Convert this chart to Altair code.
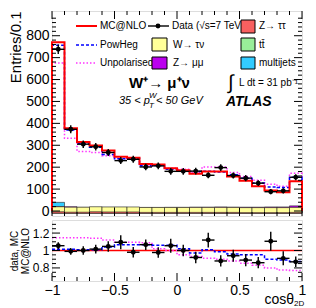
import altair as alt
import pandas as pd

FONT = "Liberation Sans"

# ---------------- data ----------------
bin_edges = [-1.0, -0.9, -0.8, -0.7, -0.6, -0.5, -0.4, -0.3, -0.2, -0.1, 0.0,
             0.1, 0.2, 0.3, 0.4, 0.5, 0.6, 0.7, 0.8, 0.9, 1.0]

mcnlo = [770, 378, 315, 299, 276, 248, 243, 214, 212, 195, 186, 170, 180, 180, 157, 138, 113, 93, 86, 136]
powheg = [757, 370, 308, 291, 258, 238, 240, 207, 208, 190, 182, 180, 181, 178, 166, 149, 128, 110, 107, 154]
unpol = [675, 332, 272, 267, 252, 240, 238, 205, 210, 195, 191, 176, 201, 201, 176, 157, 140, 122, 113, 172]
data_vals = [738, 373, 305, 293, 267, 230, 236, 201, 206, 181, 181, 182, 163, 198, 162, 150, 127, 88, 92, 154]
data_errs = [22, 18, 17, 17, 16, 16, 16, 15, 15, 15, 15, 15, 14, 15, 14, 14, 13, 12, 12, 14]

bkg_multijets = [28, 3, 3, 3, 3, 3, 3, 3, 3, 3, 3, 3, 3, 3, 3, 3, 3, 3, 3, 3]
bkg_zmumu = [9, 8, 5, 5, 5, 5, 4, 4, 4, 5, 5, 6, 6, 7, 6, 6, 6, 7, 7, 12]
bkg_ttbar = [1, 1, 1, 1, 1, 1, 1, 1, 1, 1, 1, 1, 1, 1, 1, 1, 1, 1, 1, 1]
bkg_ztautau = [1, 1, 1, 1, 1, 1, 1, 1, 1, 1, 1, 1, 1, 1, 1, 1, 1, 1, 1, 1]
bkg_wtaunu = [8, 6, 6, 8, 7, 7, 7, 5, 5, 5, 5, 5, 5, 5, 5, 4, 4, 4, 4, 5]

ratio_data = [1.055, 0.99, 1.0, 1.016, 1.047, 1.094, 0.98, 1.067, 0.977, 1.055,
              1.0, 0.92, 1.12, 0.88, 0.94, 0.89, 0.86, 1.106, 0.91, 0.87]
ratio_errs = [0.04, 0.04, 0.05, 0.05, 0.06, 0.08, 0.06, 0.06, 0.06, 0.08,
              0.065, 0.065, 0.085, 0.065, 0.07, 0.07, 0.065, 0.11, 0.08, 0.06]
ratio_powheg = [1.015, 1.015, 1.01, 1.01, 1.04, 1.065, 1.065, 1.065, 1.06, 1.06,
                1.02, 0.97, 1.01, 0.985, 0.96, 0.95, 0.95, 0.9, 0.89, 0.875]
ratio_unpol = [1.146, 1.146, 1.146, 1.14, 1.12, 1.094, 1.094, 1.09, 1.02, 1.0,
               0.95, 0.93, 0.91, 0.9, 0.88, 0.855, 0.83, 0.8, 0.775, 0.77]
mcnlo_ratio = [1.0]

x_label_values = [-1, -0.5, 0, 0.5, 1]
main_y_major = [0, 100, 200, 300, 400, 500, 600, 700, 800]
main_y_minor = [v for v in range(20, 900, 20) if v % 100 != 0]
ratio_y_major = [0.8, 1.0, 1.2]
ratio_y_minor = [0.7, 0.75, 0.85, 0.9, 0.95, 1.05, 1.1, 1.15, 1.25, 1.3]
x_major = [-1, -0.5, 0, 0.5, 1]
x_minor = [e for e in bin_edges if e not in x_major]

# stacking order from the bottom
bkg_names = ["multijets", "Z→ μμ", "tt̄", "Z→ ττ", "W→ τν"]
bkg_colors = ["#33ccff", "#bb00ee", "#99ee99", "#f86060", "#ffff99"]
bkg_lists = [bkg_multijets, bkg_zmumu, bkg_ttbar, bkg_ztautau, bkg_wtaunu]

# ---------------- layout ----------------
W = 250
H_MAIN = 205
H_RAT = 61

xs = alt.Scale(domain=[-1, 1], nice=False, zero=False)
ys_main = alt.Scale(domain=[0, 890], nice=False, zero=False)
ys_rat = alt.Scale(domain=[0.65, 1.35], nice=False, zero=False)

main_yaxis = alt.Axis(values=main_y_major, title="Entries/0.1", titleFontSize=15,
                      labelFontSize=14, titleAnchor="end", titleFontWeight="normal",
                      labelPadding=3, titlePadding=2, ticks=False, domain=False,
                      grid=False, labelFont=FONT, titleFont=FONT, labelColor="black",
                      titleColor="black")
rat_yaxis = alt.Axis(values=ratio_y_major, title=["data, MC", "MC@NLO"], titleFontSize=10,
                     labelFontSize=12, titleFontWeight="normal", labelPadding=3,
                     titlePadding=2, ticks=False, domain=False, grid=False,
                     labelFont=FONT, titleFont=FONT, labelColor="black",
                     titleColor="black", titleLineHeight=11, format=".1~f")
rat_xaxis = alt.Axis(values=x_label_values, title=None, labelFontSize=14, labelPadding=2,
                     labelFlush=False, ticks=False, domain=False, grid=False,
                     labelFont=FONT, labelColor="black", format="~g")


def Xm(f):
    return alt.X(f, scale=xs, axis=None)


def Xr(f):
    return alt.X(f, scale=xs, axis=rat_xaxis)


def Ym(f):
    return alt.Y(f, scale=ys_main, axis=main_yaxis)


def Yr(f):
    return alt.Y(f, scale=ys_rat, axis=rat_yaxis)


def step_df(vals, closed):
    if closed:
        xs_ = [bin_edges[0]] + bin_edges[:20] + [bin_edges[20], bin_edges[20]]
        ys_ = [0] + list(vals) + [vals[-1], 0]
    else:
        xs_ = bin_edges[:20] + [bin_edges[20]]
        ys_ = list(vals) + [vals[-1]]
    return pd.DataFrame({"x": xs_, "y": ys_, "i": list(range(len(xs_)))})


def step_line(vals, closed, X, Y, color, width, dash=None):
    kw = dict(interpolate="step-after", color=color, strokeWidth=width)
    if dash:
        kw["strokeDash"] = dash
    return alt.Chart(step_df(vals, closed)).mark_line(**kw).encode(
        x=X("x:Q"), y=Y("y:Q"), order=alt.Order("i:Q"))


def points_layers(vals, errs, X, Y):
    df = pd.DataFrame({
        "lo": bin_edges[:20], "hi": bin_edges[1:],
        "c": [(a + b) / 2 for a, b in zip(bin_edges[:20], bin_edges[1:])],
        "v": vals,
        "vlo": [v - e for v, e in zip(vals, errs)],
        "vhi": [v + e for v, e in zip(vals, errs)],
    })
    base = alt.Chart(df)
    ev = base.mark_rule(color="black", strokeWidth=1.4).encode(x=X("c:Q"), y=Y("vlo:Q"), y2="vhi:Q")
    eh = base.mark_rule(color="black", strokeWidth=1.4).encode(x=X("lo:Q"), x2="hi:Q", y=Y("v:Q"))
    dot = base.mark_point(filled=True, color="black", size=24, opacity=1).encode(x=X("c:Q"), y=Y("v:Q"))
    return [ev, eh, dot]


def yticks(vals, Y, length, right=False):
    x0 = W - length if right else 0
    return alt.Chart(pd.DataFrame({"v": vals})).mark_rule(color="black", strokeWidth=1).encode(
        y=Y("v:Q"), x=alt.value(x0), x2=alt.value(x0 + length))


def xticks(vals, X, length, height, top=True):
    y0 = 0 if top else height - length
    return alt.Chart(pd.DataFrame({"v": vals})).mark_rule(color="black", strokeWidth=1).encode(
        x=X("v:Q"), y=alt.value(y0), y2=alt.value(y0 + length))


one = alt.Data(values=[{"a": 1}])


def txt(s, x, y, size=10, weight="normal", style="normal", align="left", baseline="middle"):
    return alt.Chart(one).mark_text(text=s, x=x, y=y, fontSize=size, fontWeight=weight,
                                    fontStyle=style, align=align, baseline=baseline,
                                    font=FONT, color="black")


def lrule(x1, x2, y, color, width, dash=None):
    kw = dict(color=color, strokeWidth=width)
    if dash:
        kw["strokeDash"] = dash
    return alt.Chart(one).mark_rule(**kw).encode(x=alt.value(x1), x2=alt.value(x2), y=alt.value(y))


def lbox(x1, x2, y1, y2, color):
    return alt.Chart(one).mark_rect(fill=color, stroke="black", strokeWidth=1).encode(
        x=alt.value(x1), x2=alt.value(x2), y=alt.value(y1), y2=alt.value(y2))


# ---------------- main panel ----------------
bg_rows = []
for k, (name, vals) in enumerate(zip(bkg_names, bkg_lists)):
    for i, v in enumerate(vals):
        bg_rows.append({"lo": bin_edges[i], "hi": bin_edges[i + 1], "val": v, "cat": name, "ord": k})
bg_df = pd.DataFrame(bg_rows)

bars = alt.Chart(bg_df).mark_bar(stroke="#222222", strokeWidth=0.6).encode(
    x=Xm("lo:Q"), x2="hi:Q",
    y=alt.Y("val:Q", scale=ys_main, axis=main_yaxis, stack="zero"),
    color=alt.Color("cat:N", scale=alt.Scale(domain=bkg_names, range=bkg_colors), legend=None),
    order=alt.Order("ord:Q"))

main_layers = [bars,
               step_line(unpol, True, Xm, Ym, "#ff33ff", 1.5, [1.5, 2]),
               step_line(powheg, True, Xm, Ym, "#0000ff", 1.5, [3, 2]),
               step_line(mcnlo, True, Xm, Ym, "#ff0000", 2)]
main_layers += points_layers(data_vals, data_errs, Xm, Ym)
main_layers += [yticks(main_y_major, Ym, 8), yticks(main_y_minor, Ym, 4),
                yticks(main_y_major, Ym, 8, right=True), yticks(main_y_minor, Ym, 4, right=True),
                xticks(x_major, Xm, 8, H_MAIN), xticks(x_minor, Xm, 4, H_MAIN),
                xticks(x_major, Xm, 8, H_MAIN, top=False), xticks(x_minor, Xm, 4, H_MAIN, top=False)]

# legend
main_layers += [
    lrule(24, 45, 15, "#ff0000", 2), txt("MC@NLO", 48, 15),
    lrule(24, 45, 34, "#0000ff", 1.5, [3, 2]), txt("PowHeg", 48, 34),
    lrule(24, 45, 52, "#ff33ff", 1.5, [1.5, 2]), txt("Unpolarised", 48, 52),
    lrule(96, 117, 15, "black", 1.4),
    alt.Chart(one).mark_point(x=106, y=15, filled=True, color="black", size=24, opacity=1),
    txt("Data (√s=7 TeV)", 120, 15),
    lbox(100, 115, 27, 40, "#ffff99"), txt("W→ τν", 121, 34),
    lbox(100, 115, 46, 58, "#bb00ee"), txt("Z→ μμ", 121, 52),
    lbox(189, 203, 9, 22, "#f86060"), txt("Z→ ττ", 207, 15),
    lbox(189, 203, 27, 40, "#99ee99"), txt("tt̄", 207, 34),
    lbox(189, 203, 46, 58, "#33ccff"), txt("multijets", 207, 52),
]
# annotations
main_layers += [
    txt("W⁺→ μ⁺ν", 77, 72, size=15, weight="bold"),
    txt("35 < p", 67, 90, size=11, style="italic"),
    txt("W", 97, 85, size=8, style="italic"),
    txt("T", 97, 95, size=8, style="italic"),
    txt("< 50 GeV", 104, 90, size=11, style="italic"),
    txt("∫", 176, 72, size=20),
    txt("L dt = 31 pb⁻¹", 187, 72, size=10),
    txt("ATLAS", 174, 91, size=14, weight="bold", style="italic"),
]

main = alt.layer(*main_layers).properties(width=W, height=H_MAIN)

# ---------------- ratio panel ----------------
ref_line = alt.Chart(pd.DataFrame({"r": mcnlo_ratio})).mark_rule(
    color="#ff0000", strokeWidth=1.5).encode(y=Yr("r:Q"))

rat_layers = [
    ref_line,
    step_line(ratio_unpol, False, Xr, Yr, "#ff33ff", 1.5, [1.5, 2]),
    step_line(ratio_powheg, False, Xr, Yr, "#0000ff", 1.5, [3, 2]),
]
rat_layers += points_layers(ratio_data, ratio_errs, Xr, Yr)
rat_layers += [yticks(ratio_y_major, Yr, 8), yticks(ratio_y_minor, Yr, 4),
               yticks(ratio_y_major, Yr, 8, right=True), yticks(ratio_y_minor, Yr, 4, right=True),
               xticks(x_major, Xr, 8, H_RAT, top=False), xticks(x_minor, Xr, 4, H_RAT, top=False),
               txt("cosθ", 242, 80, size=14, align="right"),
               txt("2D", 242, 84, size=8)]

ratio = alt.layer(*rat_layers).properties(width=W, height=H_RAT)

chart = alt.vconcat(main, ratio, spacing=0).properties(
    padding={"left": 0, "top": 2, "right": 0, "bottom": 0}
).configure_view(stroke="black", strokeWidth=1.2).configure(font=FONT)

chart.save("out.html", embed_options={"renderer": "svg", "actions": False})
